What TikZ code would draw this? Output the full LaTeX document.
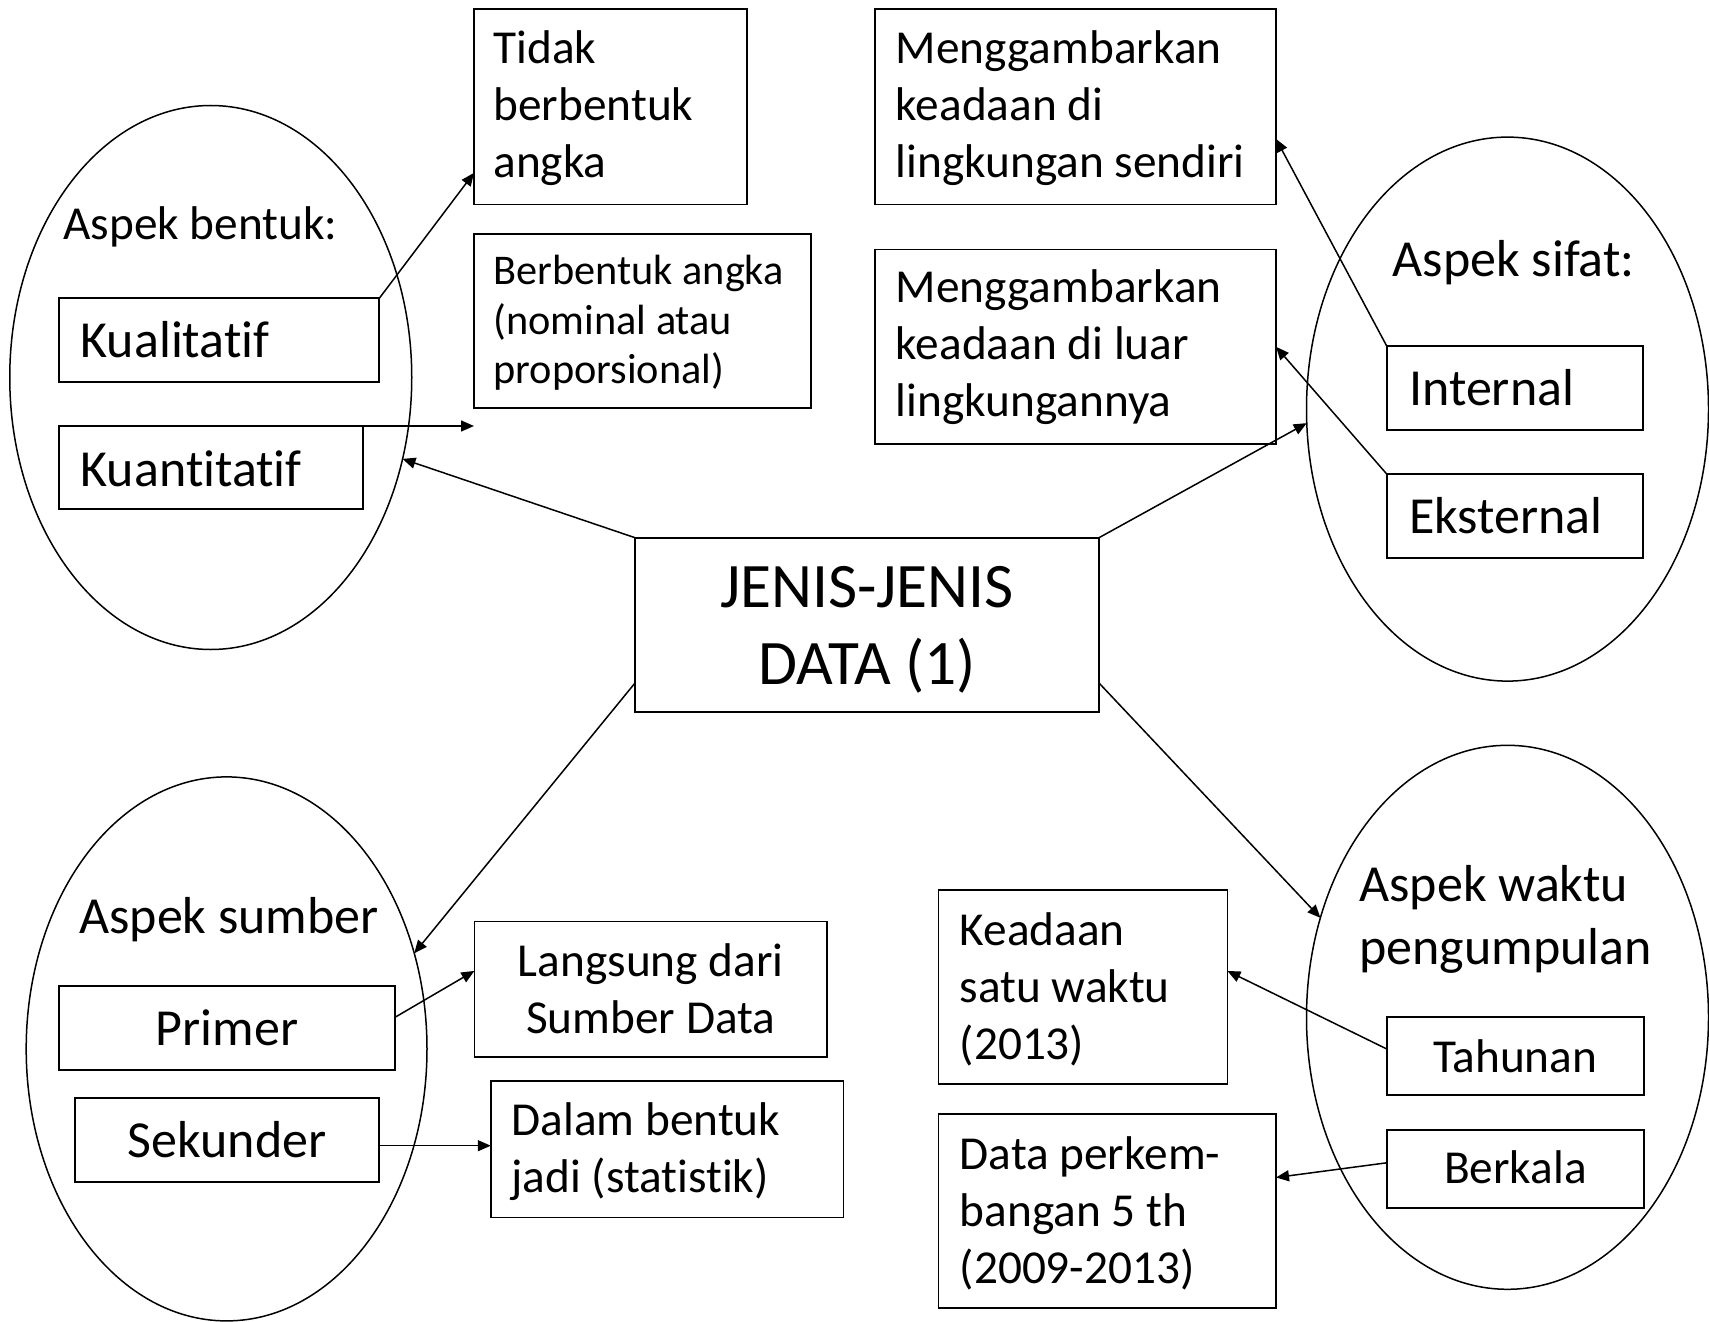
\documentclass[tikz,border=0pt]{standalone}
\usepackage{fontspec}
\setmainfont{Carlito}[Ligatures={NoCommon,NoContextual}]
\usetikzlibrary{arrows.meta,shapes.geometric,calc}
\newcommand\fmed{\fontsize{23.65pt}{28.5pt}\selectfont}
\newcommand\fsml{\fontsize{21.15pt}{24.75pt}\selectfont}
\newcommand\flrg{\fontsize{26pt}{31.6pt}\selectfont}
\newcommand\fttl{\fontsize{31.7pt}{38.5pt}\selectfont}
\newcommand\nsp{\spaceskip=\fontdimen2\font\xspaceskip=\fontdimen2\font\relax}
\tikzset{
  box/.style={draw, line width=0.85pt, rectangle, inner ysep=0pt, outer sep=0pt, anchor=north west},
  geo/.style n args={4}{text width=#1, inner xsep=#2, text height=#3, text depth=#4},
  oval/.style={draw, ellipse, line width=0.75pt, inner sep=0pt, outer sep=0pt},
  lab/.style={inner sep=0pt, outer sep=0pt, anchor=base west},
  arr/.style={line width=0.75pt, -{Triangle[length=6.5pt,width=5.5pt]}},
}
\begin{document}
\begin{tikzpicture}[x=0.5pt, y=-0.5pt]
\useasboundingbox (0,0) rectangle (1709,1322);

% ellipses
\node[oval, minimum width=201pt, minimum height=272pt] (e1) at (210.75,377.5) {};
\node[oval, minimum width=201pt, minimum height=272pt] (e2) at (1507.5,409.1) {};
\node[oval, minimum width=200.4pt, minimum height=272pt] (e3) at (226.6,1048.9) {};
\node[oval, minimum width=201pt, minimum height=272pt] (e4) at (1507.5,1017.3) {};

% ellipse labels
\node[lab, font=\fmed] (lb1) at (63.3,240) {Aspek bentuk:};
\node[lab, font=\flrg] (lb2) at (1392.7,276.7) {Aspek sifat:};
\node[lab, font=\flrg] (lb3) at (79.3,933.3) {Aspek sumber};
\node[lab, font=\flrg, text width=170pt, align=left] (lb4) at (1359.4,901.3) {\nsp Aspek waktu\\pengumpulan};

% central box
\node[box, font=\fttl, geo={232pt}{0pt}{34.8pt}{52.2pt}, align=center] (jn) at (635,537.7) {\nsp JENIS-JENIS\\\nsp DATA (1)};

% Aspek bentuk
\node[box, font=\flrg, geo={138.45pt}{10.85pt}{29.5pt}{12.2pt}, align=left] (kl) at (59,298.3) {Kualitatif};
\node[box, font=\flrg, geo={130.15pt}{10.85pt}{30pt}{11.65pt}, align=left] (kn) at (59,426) {Kuantitatif};
\node[box, font=\fmed, geo={117pt}{9.75pt}{27.1pt}{70.5pt}, align=left] (td) at (474,9.3) {Tidak\\berbentuk\\angka};
\node[box, font=\fsml, geo={149pt}{9.75pt}{25.3pt}{61.7pt}, align=left] (bb) at (474,234) {\nsp Berbentuk angka\\\nsp (nominal atau\\proporsional)};

% Aspek sifat
\node[box, font=\flrg, geo={105.7pt}{11.3pt}{29.5pt}{12.5pt}, align=left] (in) at (1386.7,346) {Internal};
\node[box, font=\flrg, geo={105.7pt}{11.3pt}{29.65pt}{12.2pt}, align=left] (ek) at (1386.7,474) {Eksternal};
\node[box, font=\fmed, geo={179.7pt}{10.35pt}{26.95pt}{70.65pt}, align=left] (m1) at (875.2,9.3) {\nsp Menggambarkan\\\nsp keadaan di\\\nsp lingkungan sendiri};
\node[box, font=\fmed, geo={179.7pt}{10.35pt}{26.55pt}{70.65pt}, align=left] (m2) at (875.2,249.6) {\nsp Menggambarkan\\\nsp keadaan di luar\\lingkungannya};

% Aspek sumber
\node[box, font=\flrg, geo={168pt}{0pt}{29.5pt}{12.5pt}, align=center] (pr) at (59,986) {Primer};
\node[box, font=\flrg, geo={152.15pt}{0pt}{29.5pt}{12.2pt}, align=center] (sk) at (75,1098.3) {Sekunder};
\node[box, font=\fmed, geo={176.4pt}{0pt}{27.45pt}{40.45pt}, align=center] (ls) at (474.4,921.5) {\nsp Langsung dari\\\nsp Sumber Data};
\node[box, font=\fmed, geo={155.7pt}{10.35pt}{27pt}{41.1pt}, align=left] (dl) at (490.8,1081.3) {\nsp Dalam bentuk\\\nsp jadi (statistik)};

% Aspek waktu
\node[box, font=\fmed, geo={128.65pt}{0pt}{27.4pt}{11.65pt}, align=center] (th) at (1386.7,1017.2) {Tahunan};
\node[box, font=\fmed, geo={128.65pt}{0pt}{27pt}{12pt}, align=center] (bk) at (1386.7,1129.8) {Berkala};
\node[box, font=\fmed, geo={123.2pt}{10.65pt}{27.8pt}{69.15pt}, align=left] (kd) at (938.4,890) {\nsp Keadaan\\\nsp satu waktu\\(2013)};
\node[box, font=\fmed, geo={147.5pt}{10.65pt}{27.4pt}{69.6pt}, align=left] (dp) at (938.4,1114.2) {\nsp Data perkem-\\\nsp bangan 5 th\\(2009-2013)};

% connectors
\draw[arr] (kl.north east) -- ([yshift=-33pt]td.west);
\draw[arr] (kn.north east) -- (kn.north east -| bb.west);
\draw[arr] (jn.north west) -- (e1.-23.2);
\draw[arr] (jn.north east) -- (e2.184.8);
\draw[arr] (in.north west) -- ([yshift=-16pt]m1.east);
\draw[arr] (ek.north west) -- (m2.east);
\draw[arr] ([yshift=-29.15pt]jn.west) -- (e3.27.6);
\draw[arr] ([yshift=-29.15pt]jn.east) -- (e4.152.5);
\draw[arr] ([yshift=5.35pt]pr.east) -- ([yshift=9.25pt]ls.west);
\coordinate (skp) at ([yshift=-2.85pt]sk.east);
\draw[arr] (skp) -- (skp -| dl.west);
\draw[arr] ([yshift=3.65pt]th.west) -- ([yshift=8pt]kd.east);
\draw[arr] ([yshift=3pt]bk.west) -- ([yshift=16.85pt]dp.east);
\end{tikzpicture}
\end{document}
